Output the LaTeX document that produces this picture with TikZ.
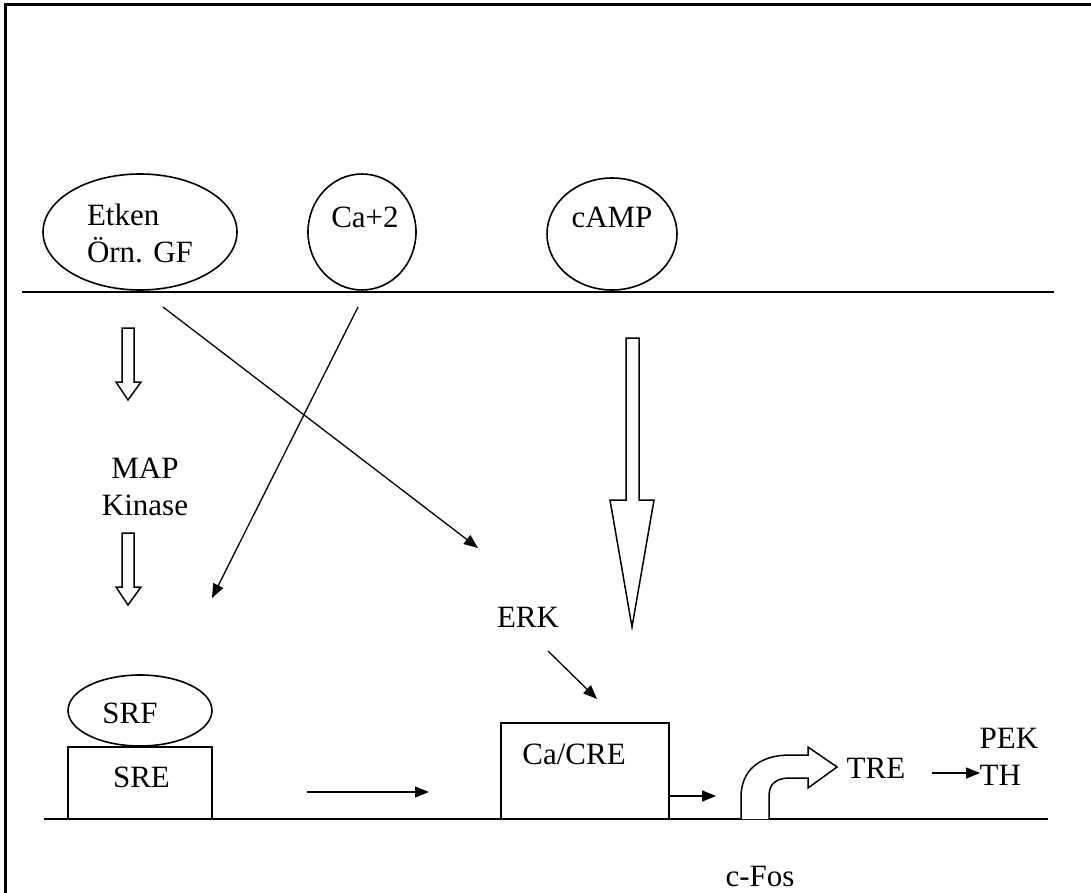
\documentclass[tikz,border=0pt]{standalone}
\usepackage{fontspec}
\setmainfont{Liberation Serif}
\usetikzlibrary{arrows.meta,shapes.geometric}
\begin{document}
\begin{tikzpicture}[x=1pt,y=-1pt,
  every node/.style={font=\fontsize{31}{37}\selectfont, inner sep=0pt},
  oval/.style={draw, line width=1.6pt, ellipse},
  ln/.style={line width=1.6pt},
  thin/.style={line width=1.3pt},
  arr/.style={thin, -{Triangle[length=14pt,width=11pt]}},
  blockarr/.style={draw, line width=1.5pt, fill=white}]
\useasboundingbox (0,0) rectangle (1091,893);
% frame
\draw[line width=3pt] (5,893) -- (5,5) -- (1091,5);
% membrane and DNA lines
\coordinate (m1) at (22,292); \coordinate (m2) at (1054,292);
\draw[ln] (m1) -- (m2);
\coordinate (d1) at (44,819); \coordinate (d2) at (1048,819);
\draw[ln] (d1) -- (d2);
% top ellipses
\draw[ln] (140,232) ellipse [x radius=97, y radius=58];
\node[align=left] (etken) at (140,233) {Etken\\Örn. GF};
\draw[ln] (362,232) ellipse [x radius=54, y radius=58];
\node (ca) at (365,217) {Ca+2};
\draw[ln] (612,234) ellipse [x radius=65, y radius=56];
\node (camp) at (612,217) {cAMP};
% left block arrows
\draw[blockarr] (122,328) -- (134,328) -- (134,382) -- (141,382) -- (128,400) -- (116,382) -- (122,382) -- cycle;
\node[align=center] (map) at (145,487) {MAP\\Kinase};
\draw[blockarr] (122,533) -- (134,533) -- (134,587) -- (141,587) -- (128,605) -- (116,587) -- (122,587) -- cycle;
% cAMP big block arrow
\draw[blockarr] (626,338) -- (639,338) -- (639,500) -- (654,500) -- (632,627) -- (610,500) -- (626,500) -- cycle;
% diagonal arrows
\coordinate (g1) at (163,307); \coordinate (g2) at (478,548);
\draw[arr] (g1) -- (g2);
\coordinate (c1) at (358,307); \coordinate (c2) at (212,598);
\draw[arr] (c1) -- (c2);
% ERK
\node (erk) at (528,617) {ERK};
\coordinate (e1) at (548,651); \coordinate (e2) at (597,699);
\draw[arr] (e1) -- (e2);
% SRF / SRE
\node[oval, minimum width=144pt, minimum height=71pt] (srf) at (140,710.5) {};
\node at (130,713) {SRF};
\node[draw, ln, minimum width=144pt, minimum height=72pt] (sre) at (140,783) {};
\node at (141.5,777) {SRE};
\coordinate (a1) at (307,792); \coordinate (a2) at (429,792);
\draw[arr] (a1) -- (a2);
% Ca/CRE box
\node[draw, ln, minimum width=168pt, minimum height=96pt] (cre) at (585,771) {};
\node (cretext) at (574,754) {Ca/CRE};
\coordinate (b1) at (669,796); \coordinate (b2) at (716,796);
\draw[arr] (b1) -- (b2);
% curved block arrow (c-Fos promoter)
\draw[blockarr] (741,819) -- (741,797) .. controls (741,770) and (760,755) .. (790,755)
  -- (808,755) -- (808,747) -- (837,767) -- (808,788) -- (808,778) -- (790,778)
  .. controls (776,778) and (769,784) .. (769,796) -- (769,819);
\node (tre) at (876,768) {TRE};
\coordinate (t1) at (932,773); \coordinate (t2) at (980,773);
\draw[arr] (t1) -- (t2);
\node[align=left] (pek) at (1009,757) {PEK\\TH};
\node (cfos) at (760,876) {c-Fos};
\end{tikzpicture}
\end{document}
